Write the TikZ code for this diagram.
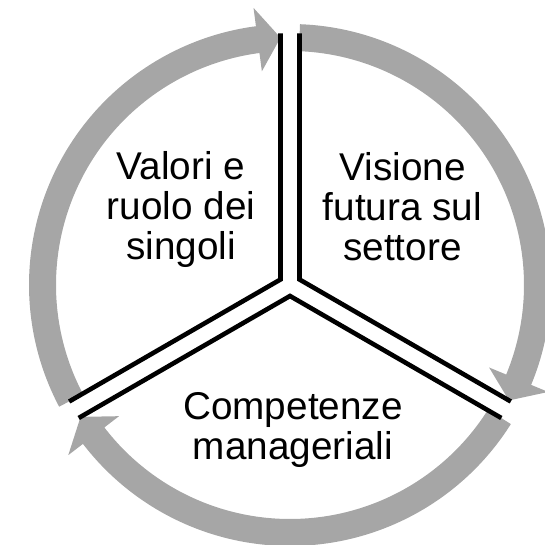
\documentclass[tikz,border=0pt]{standalone}
\usepackage{fontspec}
\setmainfont{Liberation Sans}
\definecolor{ringGray}{RGB}{166,166,166}

\begin{document}
\begin{tikzpicture}[x=1pt, y=1pt,
    arrowStyle/.style={fill=ringGray},
    dividerStyle/.style={draw=black, line width=4.6pt, line join=miter},
    labelStyle/.style={align=center, inner sep=0pt, font=\fontsize{38.7pt}{40pt}\selectfont}]
    \useasboundingbox (-290,-260) rectangle (254,285);

    \fill[arrowStyle] (207.8:261) arc[start angle=207.8, end angle=97.5, radius=261pt] -- (97.5:279.5) -- (92.2:247.5) -- (97.5:215.5) -- (97.5:234) arc[start angle=97.5, end angle=207.8, radius=234pt] -- cycle;
    \fill[arrowStyle] (87.8:261) arc[start angle=87.8, end angle=-22.5, radius=261pt] -- (-22.5:279.5) -- (-27.8:247.5) -- (-22.5:215.5) -- (-22.5:234) arc[start angle=-22.5, end angle=87.8, radius=234pt] -- cycle;
    \fill[arrowStyle] (-32.2:261) arc[start angle=-32.2, end angle=-142.5, radius=261pt] -- (-142.5:279.5) -- (-147.8:247.5) -- (-142.5:215.5) -- (-142.5:234) arc[start angle=-142.5, end angle=-32.2, radius=234pt] -- cycle;

    \coordinate (cornerL) at (150:11);
    \coordinate (cornerR) at (30:11);
    \coordinate (cornerB) at (270:11);

    \draw[dividerStyle] (cornerL) ++(90:246) -- (cornerL) -- ++(210:244);
    \draw[dividerStyle] (cornerR) ++(90:246) -- (cornerR) -- ++(-30:244);
    \draw[dividerStyle] (cornerB) ++(210:244) -- (cornerB) -- ++(-30:244);

    \node[labelStyle](valori) at (-109, 75.3) {Valori e\\ruolo dei\\singoli};
    \node[labelStyle](visione) at (112.5, 78.6) {Visione\\futura sul\\settore};
    \node[labelStyle](competenze) at (3, -145.2) {Competenze\\manageriali};
\end{tikzpicture}
\end{document}
